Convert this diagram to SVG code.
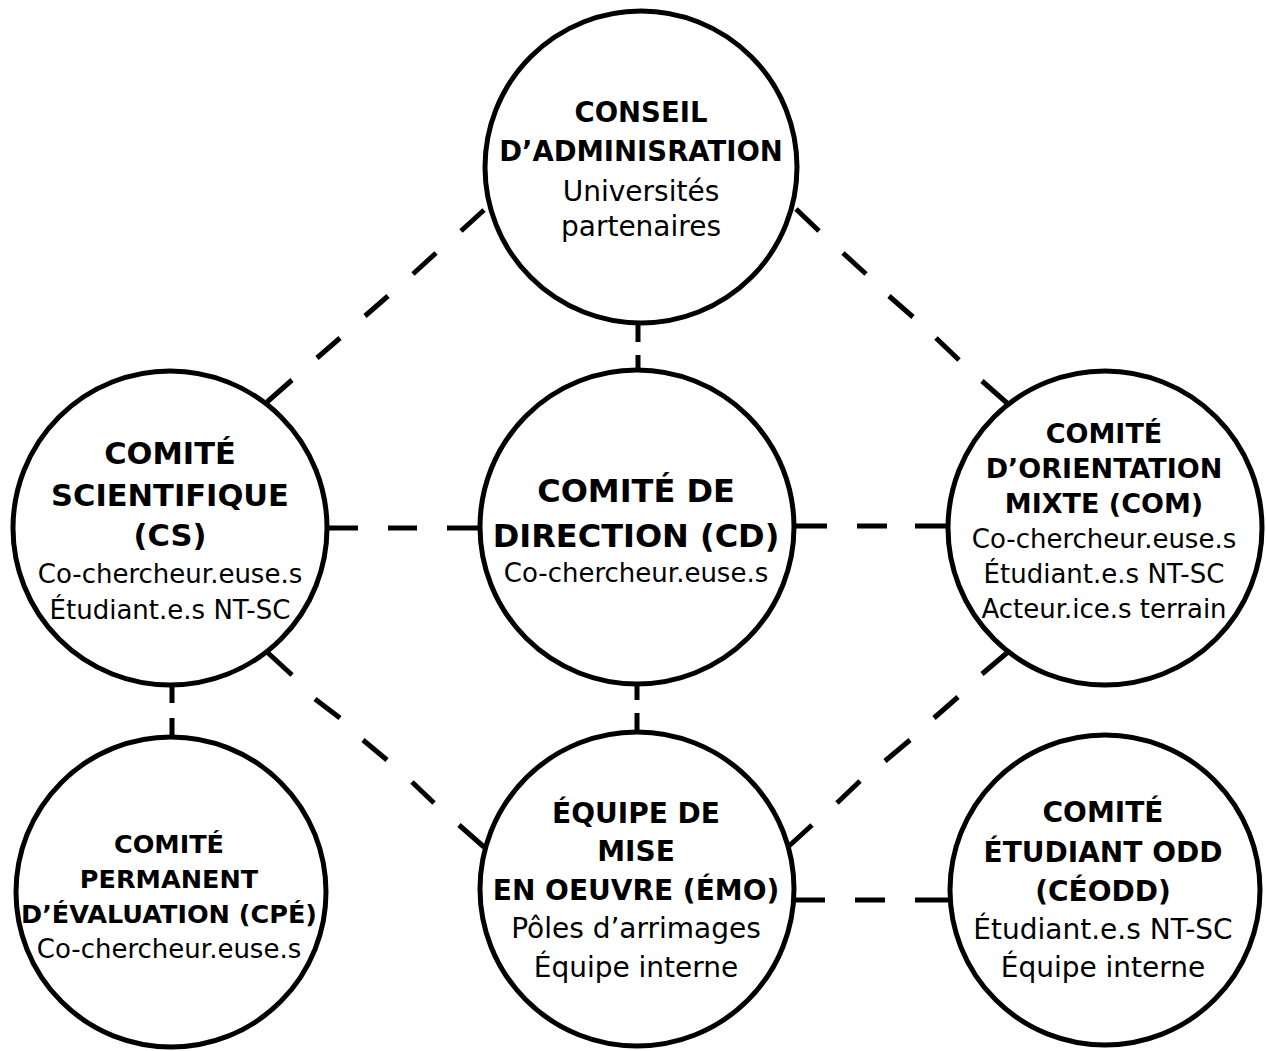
<svg xmlns="http://www.w3.org/2000/svg" width="1266" height="1051" viewBox="0 0 1266 1051">
<style>
.bg{fill:#ffffff}
.conn{fill:none;stroke:#000;stroke-width:5;stroke-linecap:butt}
.node{fill:#fff;stroke:#000;stroke-width:5}
.t{font-family:"DejaVu Sans","Liberation Sans",sans-serif;fill:#000;text-anchor:middle}
.b{font-weight:bold}
</style>
<rect class="bg" x="0" y="0" width="1266" height="1051"/>
<g id="connectors">
<path class="conn" d="M638 322V342M638 355V369"/>
<path class="conn" d="M327 528H358M388 528H417M447 528H479"/>
<path class="conn" d="M795 526H827M857 526H887M915 526H947"/>
<path class="conn" d="M637 684V700M637 713V730"/>
<path class="conn" d="M172 685V703M172 718V737"/>
<path class="conn" d="M794 900H825M855 900H885M915 900H948"/>
<path class="conn" d="M267 402L292 380M317 358L340 338M365 316L388 296M413 274L436 253M461 231L484 210"/>
<path class="conn" d="M796 209L819 231M843 253L866 274M889 296L913 317M936 338L959 360M982 381L1007 403"/>
<path class="conn" d="M267 652L292 675M315 699L340 718M363 740L387 760M412 782L434 803M459 825L484 847"/>
<path class="conn" d="M1008 652L982 674M958 697L934 718M910 740L885 761M860 781L837 803M812 825L789 846"/>
</g>
<g id="ca">
<circle class="node" cx="641" cy="167" r="156"/>
<text class="t b" x="641" y="122" font-size="27.5">CONSEIL</text>
<text class="t b" x="641" y="161" font-size="27.5">D’ADMINISRATION</text>
<text class="t" x="641" y="201" font-size="28">Universités</text>
<text class="t" x="641" y="236" font-size="28">partenaires</text>
</g>
<g id="cs">
<circle class="node" cx="170" cy="528" r="157"/>
<text class="t b" x="170" y="464" font-size="30.5">COMITÉ</text>
<text class="t b" x="170" y="506" font-size="30.5">SCIENTIFIQUE</text>
<text class="t b" x="170" y="546" font-size="30.5">(CS)</text>
<text class="t" x="170" y="583" font-size="26">Co-chercheur.euse.s</text>
<text class="t" x="170" y="619" font-size="26">Étudiant.e.s NT-SC</text>
</g>
<g id="cd">
<circle class="node" cx="637" cy="527" r="157"/>
<text class="t b" x="636" y="502" font-size="32">COMITÉ DE</text>
<text class="t b" x="636" y="547" font-size="32">DIRECTION (CD)</text>
<text class="t" x="636" y="582" font-size="26">Co-chercheur.euse.s</text>
</g>
<g id="com">
<circle class="node" cx="1105" cy="528" r="157"/>
<text class="t b" x="1104" y="443" font-size="27">COMITÉ</text>
<text class="t b" x="1104" y="478" font-size="27">D’ORIENTATION</text>
<text class="t b" x="1104" y="513" font-size="27">MIXTE (COM)</text>
<text class="t" x="1104" y="548" font-size="26">Co-chercheur.euse.s</text>
<text class="t" x="1104" y="583" font-size="26">Étudiant.e.s NT-SC</text>
<text class="t" x="1104" y="618" font-size="26">Acteur.ice.s terrain</text>
</g>
<g id="cpe">
<circle class="node" cx="171" cy="892" r="155"/>
<text class="t b" x="169" y="853" font-size="25.5">COMITÉ</text>
<text class="t b" x="169" y="888" font-size="25.5">PERMANENT</text>
<text class="t b" x="169" y="923" font-size="25.5">D’ÉVALUATION (CPÉ)</text>
<text class="t" x="169" y="958" font-size="26">Co-chercheur.euse.s</text>
</g>
<g id="emo">
<circle class="node" cx="637" cy="889" r="157"/>
<text class="t b" x="636" y="823" font-size="28">ÉQUIPE DE</text>
<text class="t b" x="636" y="861" font-size="28">MISE</text>
<text class="t b" x="636" y="900" font-size="28">EN OEUVRE (ÉMO)</text>
<text class="t" x="636" y="938" font-size="28">Pôles d’arrimages</text>
<text class="t" x="636" y="977" font-size="28">Équipe interne</text>
</g>
<g id="ceodd">
<circle class="node" cx="1105" cy="890" r="155"/>
<text class="t b" x="1103" y="822" font-size="28">COMITÉ</text>
<text class="t b" x="1103" y="862" font-size="28">ÉTUDIANT ODD</text>
<text class="t b" x="1103" y="901" font-size="28">(CÉODD)</text>
<text class="t" x="1103" y="939" font-size="28">Étudiant.e.s NT-SC</text>
<text class="t" x="1103" y="977" font-size="28">Équipe interne</text>
</g>
</svg>
